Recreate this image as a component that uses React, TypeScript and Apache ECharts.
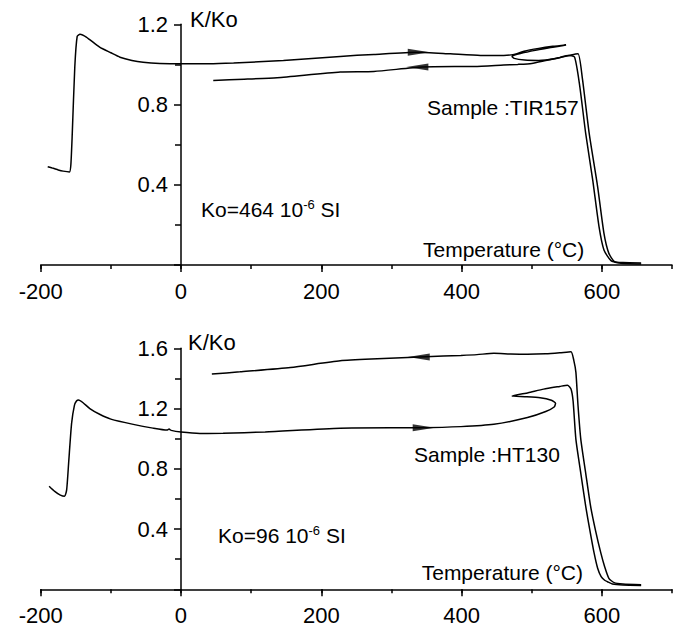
import React, { useEffect, useRef } from 'react';
import * as echarts from 'echarts';

const FONT = "'Liberation Sans', Arial, Helvetica, sans-serif";

// ---- Top panel (Sample TIR157) ----
const topHeatT = [-190, -182, -175, -168, -159, -157, -155, -151.4, -148, -144, -135, -116, -100, -87, -70, -54, -30, 0, 40, 75, 146, 227, 275, 337, 384, 427, 460, 475, 489, 510, 530, 549, 530, 505, 485, 472, 475, 490, 510, 535, 556, 566, 572, 582, 594, 603, 610, 618, 630, 656];
const topHeatK = [0.49, 0.482, 0.474, 0.468, 0.464, 0.5, 0.655, 0.987, 1.14, 1.15, 1.136, 1.086, 1.058, 1.036, 1.02, 1.011, 1.005, 1.003, 1.003, 1.007, 1.02, 1.04, 1.05, 1.061, 1.053, 1.045, 1.045, 1.05, 1.066, 1.08, 1.09, 1.097, 1.085, 1.07, 1.055, 1.04, 1.03, 1.022, 1.02, 1.03, 1.047, 1.053, 0.937, 0.655, 0.39, 0.158, 0.058, 0.017, 0.012, 0.01];
const topCoolT = [656, 640, 625, 613, 603, 596, 587, 577, 568, 561, 552, 540, 520, 500, 480, 460, 418, 344, 275, 227, 137, 90, 46];
const topCoolK = [0.005, 0.006, 0.01, 0.022, 0.075, 0.19, 0.423, 0.655, 0.904, 1.037, 1.045, 1.035, 1.02, 1.005, 1.0, 0.997, 0.99, 0.987, 0.965, 0.962, 0.934, 0.926, 0.92];
const topArrowRight = [339, 1.061];
const topArrowLeft = [337, 0.987];

// ---- Bottom panel (Sample HT130) ----
const botHeatT = [-188, -180, -172, -166, -163, -160, -156, -152, -149, -146, -140, -130, -116, -100, -68, -40, -20, -17, -14, 0, 27, 60, 120, 227, 341, 399, 446, 494, 520, 532, 534, 528, 512, 490, 472, 495, 517, 540, 551, 556, 559, 563, 570, 577, 583, 589, 594, 599, 604, 608, 615, 630, 656];
const botHeatK = [0.684, 0.65, 0.625, 0.617, 0.66, 0.85, 1.1, 1.22, 1.25, 1.257, 1.24, 1.2, 1.162, 1.13, 1.095, 1.07, 1.057, 1.064, 1.055, 1.044, 1.035, 1.036, 1.045, 1.07, 1.073, 1.08, 1.095, 1.14, 1.18, 1.21, 1.235, 1.255, 1.272, 1.279, 1.283, 1.305, 1.329, 1.347, 1.355, 1.33, 1.25, 0.995, 0.77, 0.55, 0.39, 0.24, 0.14, 0.084, 0.06, 0.05, 0.035, 0.028, 0.025];
const botCoolT = [656, 630, 617.6, 610, 604, 598.6, 591, 584, 577, 570, 566, 563, 560, 556, 540, 520, 494, 470, 446, 422, 399, 349, 280, 227, 156, 84, 44];
const botCoolK = [0.03, 0.035, 0.044, 0.073, 0.15, 0.24, 0.39, 0.55, 0.77, 0.995, 1.22, 1.44, 1.52, 1.577, 1.57, 1.563, 1.56, 1.562, 1.567, 1.558, 1.553, 1.544, 1.53, 1.517, 1.473, 1.444, 1.429];
const botArrowLeft = [339, 1.543];
const botArrowRight = [346, 1.073];

// ---- Axes ----
const xMin = -200;
const xMax = 700;
const xMajor = [-200, 0, 200, 400, 600];
const topYMax = 1.2;
const botYMax = 1.6;

const GRID_LEFT = 40.7;
const GRID_RIGHT = 9;
const CHART_W = 681;
// the vertical axis sits at T = 0 inside the grid
const yAxisShift = -((0 - xMin) / (xMax - xMin)) * (CHART_W - GRID_LEFT - GRID_RIGHT);

const zip = (a: number[], b: number[]) => a.map((v, i) => [v, b[i]]);
const black = { color: '#000', width: 1.5 };

function xAxesFor(gridIndex: number) {
  return [
    {
      type: 'value', gridIndex, min: xMin, max: xMax, interval: 100, position: 'bottom',
      axisLine: { show: true, onZero: false, lineStyle: black },
      axisTick: { show: true, length: 4, lineStyle: black },
      axisLabel: { show: false },
      splitLine: { show: false },
    },
    {
      type: 'value', gridIndex, min: xMin, max: xMax, position: 'bottom',
      axisLine: { show: false, onZero: false },
      axisTick: { show: true, length: 7, customValues: xMajor, lineStyle: black },
      axisLabel: { show: true, customValues: xMajor, margin: 15, fontSize: 22, color: '#000', fontFamily: FONT },
      splitLine: { show: false },
    },
  ];
}

function yAxisFor(gridIndex: number, max: number) {
  return {
    type: 'value', gridIndex, min: 0, max, interval: 0.4, position: 'left', offset: yAxisShift,
    axisLine: { show: true, onZero: false, lineStyle: black },
    axisTick: { show: true, length: 7, lineStyle: black },
    minorTick: { show: true, splitNumber: 2, length: 6, lineStyle: black },
    axisLabel: {
      show: true, margin: 13, fontSize: 22, color: '#000', fontFamily: FONT,
      formatter: (v: number) => (v === 0 ? '' : v.toFixed(1)),
    },
    splitLine: { show: false },
    minorSplitLine: { show: false },
  };
}

function lineSeries(data: number[][], xi: number, yi: number) {
  return {
    type: 'line', data, xAxisIndex: xi, yAxisIndex: yi,
    showSymbol: false, symbol: 'none', smooth: 0.2,
    lineStyle: { color: '#000', width: 1.5 }, z: 3,
  };
}

function arrow(p: number[], xi: number, yi: number, rot: number) {
  return {
    type: 'scatter', data: [p], xAxisIndex: xi, yAxisIndex: yi,
    symbol: 'triangle', symbolSize: [7, 22], symbolRotate: rot,
    itemStyle: { color: '#000' }, z: 5,
  };
}

function txt(x: number, y: number, text: string, size = 21, rich?: any) {
  return {
    type: 'text', x, y, z: 10,
    style: { text, fontSize: size, fontFamily: FONT, fill: '#000', align: 'left', verticalAlign: 'middle', rich },
  };
}

const supRich = {
  sup: { fontSize: 13, fontFamily: FONT, fill: '#000', verticalAlign: 'top', padding: [0, 0, 10, 0] },
};

export default function App() {
  const ref = useRef<HTMLDivElement>(null);
  useEffect(() => {
    document.body.style.margin = '0';
    const chart = echarts.init(ref.current!, null, { renderer: 'svg' });
    chart.setOption({
      animation: false,
      backgroundColor: '#fff',
      grid: [
        { left: GRID_LEFT, right: GRID_RIGHT, top: 24.3, height: 240.7 },
        { left: GRID_LEFT, right: GRID_RIGHT, top: 348.3, height: 241 },
      ],
      xAxis: [...xAxesFor(0), ...xAxesFor(1)],
      yAxis: [yAxisFor(0, topYMax), yAxisFor(1, botYMax)],
      series: [
        lineSeries(zip(topHeatT, topHeatK), 0, 0),
        lineSeries(zip(topCoolT, topCoolK), 0, 0),
        arrow(topArrowRight, 0, 0, -90),
        arrow(topArrowLeft, 0, 0, 90),
        lineSeries(zip(botHeatT, botHeatK), 2, 1),
        lineSeries(zip(botCoolT, botCoolK), 2, 1),
        arrow(botArrowLeft, 2, 1, 90),
        arrow(botArrowRight, 2, 1, -90),
      ],
      graphic: [
        txt(190, 19.5, 'K/Ko', 22),
        txt(201, 209.5, 'Ko=464 10{sup|-6} SI', 21, supRich),
        txt(427, 107.5, 'Sample :TIR157'),
        txt(423, 249, 'Temperature (°C)'),
        txt(188, 342, 'K/Ko', 22),
        txt(218, 535, 'Ko=96 10{sup|-6} SI', 21, supRich),
        txt(414, 454, 'Sample :HT130'),
        txt(421.7, 572.5, 'Temperature (°C)'),
      ],
    });
    return () => chart.dispose();
  }, []);
  return <div ref={ref} style={{ width: 681, height: 630 }} />;
}
